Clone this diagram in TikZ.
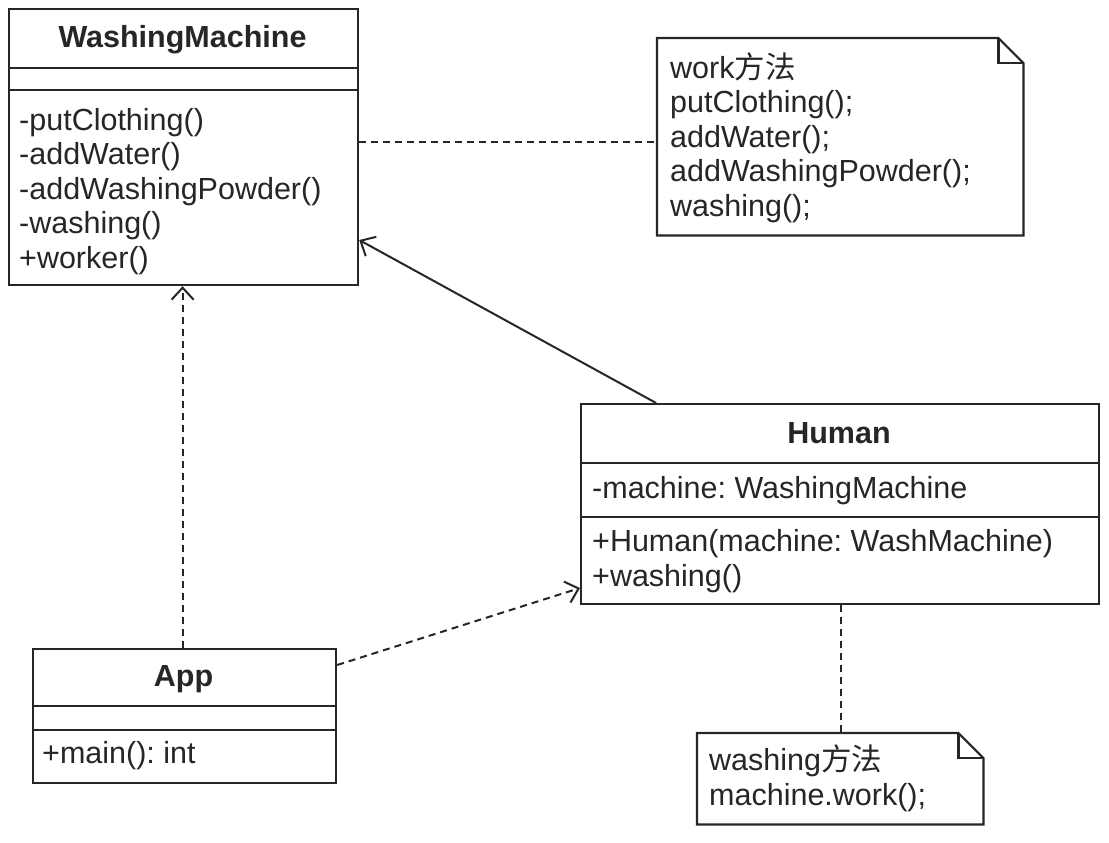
\documentclass[tikz,border=0pt]{standalone}
\usepackage{fontspec}
\setmainfont{Liberation Sans}
\newfontfamily\cjk{Noto Sans CJK SC}
\usetikzlibrary{arrows.meta}
\frenchspacing

\begin{document}
\begin{tikzpicture}[x=1pt,y=-1pt, every node/.style={font=\fontsize{30.5}{34.5}\selectfont,text=black!85},
  cls/.style={draw=black!85,line width=2.2pt,fill=white,anchor=north west,inner sep=0pt},
  note/.style={anchor=north west,inner sep=0pt},
  noteline/.style={draw=black!85,line width=2.2pt,fill=white,line join=miter},
  rule/.style={draw=black!85,line width=2.2pt},
  txt/.style={anchor=base west,align=left,inner sep=0pt},
  ttl/.style={anchor=base,inner sep=0pt,font=\fontsize{30.5}{34.5}\selectfont\bfseries},
  link/.style={draw=black!85,line width=2pt,dash pattern=on 7pt off 5pt},
  dep/.style={link,-{Straight Barb[length=12pt,width=22pt]}},
  assoc/.style={draw=black!85,line width=2pt,-{Straight Barb[length=12pt,width=22pt]}}]
\useasboundingbox (0,0) rectangle (1109,843);
% classes
\node[cls,minimum width=349pt,minimum height=276pt] (wm) at (8,8) {};
\node[ttl] (wm-name) at (182.5,48) {WashingMachine};
\draw[rule] (wm.west |- 0,68) -- (wm.east |- 0,68) (wm.west |- 0,90) -- (wm.east |- 0,90);
\node[txt] (wm-ops) at (19,268) {-putClothing()\\-addWater()\\-addWashingPowder()\\-washing()\\+worker()};

\node[cls,minimum width=518pt,minimum height=200pt] (human) at (580,403) {};
\node[ttl] (human-name) at (839,443) {Human};
\draw[rule] (human.west |- 0,463) -- (human.east |- 0,463) (human.west |- 0,517) -- (human.east |- 0,517);
\node[txt] (human-attr) at (592,498) {-machine: WashingMachine};
\node[txt] (human-ops) at (592,586) {+Human(machine: WashMachine)\\+washing()};

\node[cls,minimum width=303pt,minimum height=134pt] (app) at (32,648) {};
\node[ttl] (app-name) at (183.5,686) {App};
\draw[rule] (app.west |- 0,706) -- (app.east |- 0,706) (app.west |- 0,730) -- (app.east |- 0,730);
\node[txt] (app-ops) at (42,763) {+main(): int};

% notes
\node[note,minimum width=366pt,minimum height=197pt] (note1) at (657,38) {};
\draw[noteline] (note1.north west) -- ([xshift=-25pt]note1.north east) -- ([yshift=-25pt]note1.north east) -- (note1.south east) -- (note1.south west) -- cycle;
\draw[rule] ([xshift=-25pt]note1.north east) -- ++(0,25) -- ++(25,0);
\node[txt] (note1-text) at (670,216) {work{\cjk 方法}\\putClothing();\\addWater();\\addWashingPowder();\\washing();};

\node[note,minimum width=286pt,minimum height=91pt] (note2) at (697,733) {};
\draw[noteline] (note2.north west) -- ([xshift=-25pt]note2.north east) -- ([yshift=-25pt]note2.north east) -- (note2.south east) -- (note2.south west) -- cycle;
\draw[rule] ([xshift=-25pt]note2.north east) -- ++(0,25) -- ++(25,0);
\node[txt] (note2-text) at (709,805) {washing{\cjk 方法}\\machine.work();};

% connectors
\draw[link] (wm.east |- 0,142) -- (note1.west |- 0,142);
\draw[assoc] ([xshift=-184pt]human.north) -- (wm.east |- 0,240);
\draw[dep] ([xshift=-2pt]app.north) -- ([xshift=-2pt]app.north |- wm.south);
\draw[dep] (app.east |- 0,665) -- (human.west |- 0,588);
\draw[link] ([xshift=1pt]human.south) -- ([xshift=1pt]human.south |- note2.north);
\end{tikzpicture}
\end{document}
